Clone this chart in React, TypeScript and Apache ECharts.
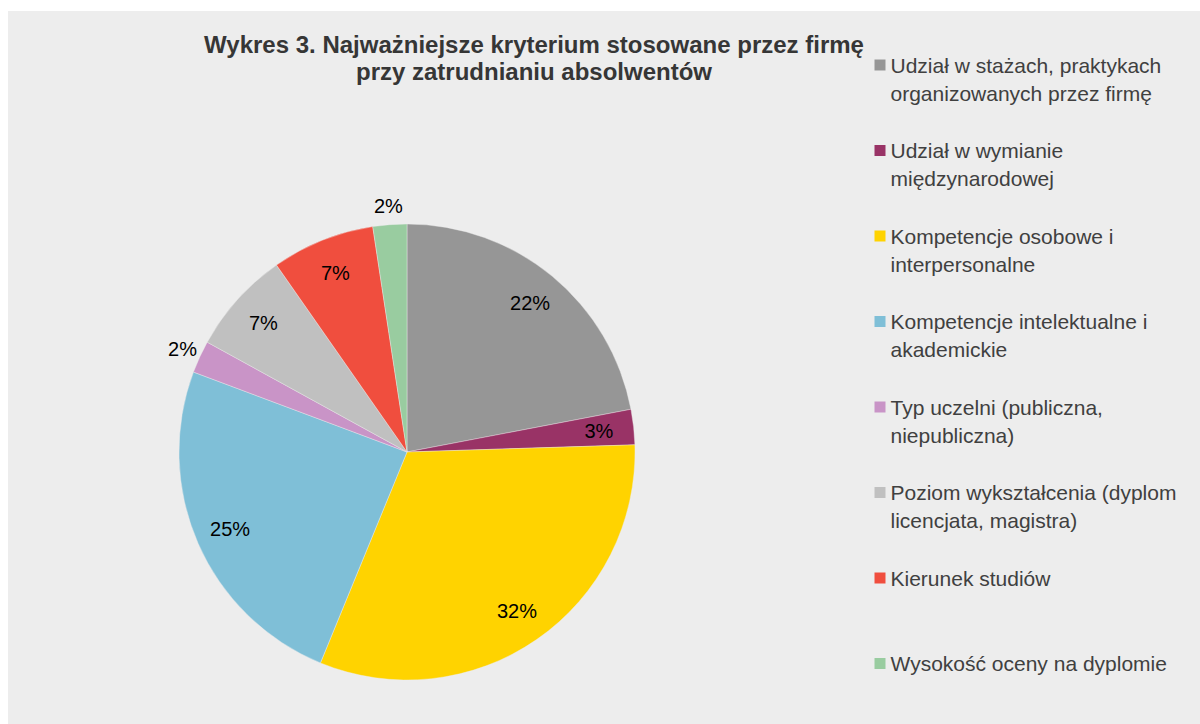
import React, { useEffect, useRef } from "react";
import * as echarts from "echarts";

const titleLines = [
  "Wykres 3. Najważniejsze kryterium stosowane przez firmę",
  "przy zatrudnianiu absolwentów",
];

const categories = [
  "Udział w stażach, praktykach\norganizowanych przez firmę",
  "Udział w wymianie\nmiędzynarodowej",
  "Kompetencje osobowe i\ninterpersonalne",
  "Kompetencje intelektualne i\nakademickie",
  "Typ uczelni (publiczna,\nniepubliczna)",
  "Poziom wykształcenia (dyplom\nlicencjata, magistra)",
  "Kierunek studiów",
  "Wysokość oceny na dyplomie",
];

// shares in percent
const values = [22.0, 2.5, 31.7, 24.5, 2.3, 7.3, 7.3, 2.4];

const colors = [
  "#969696",
  "#993366",
  "#FFD300",
  "#7FBFD7",
  "#C994C7",
  "#C0C0C0",
  "#F04E3E",
  "#99CCA0",
];

// which labels sit outside the pie
const outsideLabel = [false, false, false, false, true, false, false, true];

const FONT = "'Liberation Sans', Arial, Helvetica, sans-serif";

export default function App() {
  const ref = useRef<HTMLDivElement>(null);

  useEffect(() => {
    if (!ref.current) return;
    const chart = echarts.init(ref.current, null, { renderer: "svg" });
    const center = [399, 441];
    const fmt = (p: any) => Math.round(p.value) + "%";

    chart.setOption({
      animation: false,
      backgroundColor: "#EDEDED",
      title: {
        text: titleLines.join("\n"),
        left: 521,
        top: 15,
        textAlign: "center",
        textStyle: {
          fontFamily: FONT,
          fontSize: 24,
          fontWeight: "bold",
          color: "#363636",
          lineHeight: 27,
        },
      },
      legend: {
        orient: "vertical",
        left: 866.5,
        top: 12,
        padding: 0,
        itemWidth: 11,
        itemHeight: 11,
        itemGap: 1.5,
        icon: "rect",
        selectedMode: false,
        itemStyle: { borderWidth: 0 },
        formatter: (name: string) =>
          name
            .split("\n")
            .map((s) => "{t|" + s + "}")
            .join("\n"),
        data: categories.map((name) => ({
          name,
          textStyle: {
            padding: name.indexOf("\n") >= 0 ? [28, 0, 0, 0] : [28, 0, 28, 0],
          },
        })),
        textStyle: {
          fontFamily: FONT,
          fontSize: 21,
          color: "#404040",
          lineHeight: 28,
          rich: {
            t: {
              fontFamily: FONT,
              fontSize: 21,
              color: "#404040",
              lineHeight: 28,
            },
          },
        },
      },
      series: [
        {
          type: "pie",
          center,
          radius: [0, 228],
          startAngle: 90,
          clockwise: true,
          silent: true,
          label: { show: false },
          labelLine: { show: false },
          itemStyle: { borderColor: "#EDEDED", borderWidth: 0.4 },
          data: categories.map((name, i) => ({
            name,
            value: values[i],
            itemStyle: { color: colors[i] },
          })),
        },
        {
          type: "pie",
          center,
          radius: [180, 200],
          startAngle: 90,
          clockwise: true,
          silent: true,
          itemStyle: { color: "rgba(0,0,0,0)" },
          labelLine: { show: false },
          label: {
            position: "inside",
            formatter: fmt,
            fontFamily: FONT,
            fontSize: 20,
            color: "#000000",
          },
          data: values.map((v, i) => ({
            value: v,
            label: { show: !outsideLabel[i] },
          })),
        },
        {
          type: "pie",
          center,
          radius: [237, 251],
          startAngle: 90,
          clockwise: true,
          silent: true,
          itemStyle: { color: "rgba(0,0,0,0)" },
          labelLine: { show: false },
          label: {
            position: "inside",
            formatter: fmt,
            fontFamily: FONT,
            fontSize: 20,
            color: "#000000",
          },
          data: values.map((v, i) => ({
            value: v,
            label: { show: outsideLabel[i] },
          })),
        },
      ],
    });
    return () => chart.dispose();
  }, []);

  return (
    <div
      ref={ref}
      style={{ position: "absolute", left: 8, top: 11, width: 1192, height: 713 }}
    />
  );
}
